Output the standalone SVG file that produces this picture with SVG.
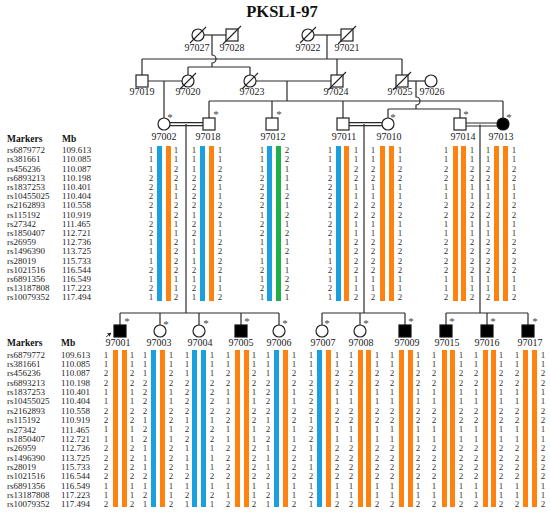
<svg xmlns="http://www.w3.org/2000/svg" xmlns:xlink="http://www.w3.org/1999/xlink" width="550" height="514" viewBox="0 0 550 514">
<style>
.ln{stroke:#2a2a2a;stroke-width:1.2;fill:none}
.sym{stroke:#222;stroke-width:1.2;fill:#fff}
.aff{stroke:#111;stroke-width:1.2;fill:#000}
.dec{stroke:#222;stroke-width:1.1}
.lb{font-family:"Liberation Serif",serif;font-size:10px;fill:#222;text-anchor:middle}
.ast{font-family:"Liberation Serif",serif;font-size:11px;fill:#444;text-anchor:middle}
.al{font-family:"Liberation Serif",serif;font-size:9px;fill:#333;text-anchor:middle}
.mk{font-family:"Liberation Serif",serif;font-size:9px;fill:#222}
.hd{font-family:"Liberation Serif",serif;font-size:9.5px;font-weight:bold;fill:#111}
.B{fill:#1aa0e0}.O{fill:#ff8210}.G{fill:#1fb04a}
</style>
<defs>
<text id="tB" class="al" x="0 0 0 0 0 0 0 0 0 0 0 0 0 0 0 0 0" y="0 9.2 18.4 27.6 36.8 46 55.2 64.4 73.6 82.8 92 101.2 110.4 119.6 128.8 138 147.2">11122221221112121</text>
<text id="tO" class="al" x="0 0 0 0 0 0 0 0 0 0 0 0 0 0 0 0 0" y="0 9.2 18.4 27.6 36.8 46 55.2 64.4 73.6 82.8 92 101.2 110.4 119.6 128.8 138 147.2">11221122112222112</text>
<text id="tG" class="al" x="0 0 0 0 0 0 0 0 0 0 0 0 0 0 0 0 0" y="0 9.2 18.4 27.6 36.8 46 55.2 64.4 73.6 82.8 92 101.2 110.4 119.6 128.8 138 147.2">22111212121211221</text>
<text id="bB" class="al" x="0 0 0 0 0 0 0 0 0 0 0 0 0 0 0 0 0" y="0 9.35 18.7 28.05 37.4 46.75 56.1 65.45 74.8 84.15 93.5 102.85 112.2 121.55 130.9 140.25 149.6">11122221221112121</text>
<text id="bO" class="al" x="0 0 0 0 0 0 0 0 0 0 0 0 0 0 0 0 0" y="0 9.35 18.7 28.05 37.4 46.75 56.1 65.45 74.8 84.15 93.5 102.85 112.2 121.55 130.9 140.25 149.6">11221122112222112</text>
<marker id="arr" markerWidth="4" markerHeight="4" refX="3.5" refY="2" orient="auto" markerUnits="userSpaceOnUse"><path d="M0,0 L4,2 L0,4 Z" fill="#222"/></marker>
</defs>
<rect width="550" height="514" fill="#fff"/>
<text x="282" y="17" font-family="Liberation Serif,serif" font-size="16.5" font-weight="bold" text-anchor="middle" fill="#111">PKSLI-97</text>

<g id="connectors">
<line class="ln" x1="204" y1="35" x2="226" y2="35"/>
<line class="ln" x1="314" y1="35" x2="341" y2="35"/>
<path class="ln" d="M212,35 V55 A4,4 0 0 1 212,63 V67"/>
<line class="ln" x1="327" y1="35" x2="327" y2="59"/>
<line class="ln" x1="142" y1="59" x2="402" y2="59"/>
<line class="ln" x1="142" y1="59" x2="142" y2="75"/>
<line class="ln" x1="337" y1="59" x2="337" y2="75"/>
<line class="ln" x1="402" y1="59" x2="402" y2="75"/>
<line class="ln" x1="188" y1="67" x2="250" y2="67"/>
<line class="ln" x1="188" y1="67" x2="188" y2="75"/>
<line class="ln" x1="250" y1="67" x2="250" y2="75"/>
<line class="ln" x1="148" y1="81" x2="182" y2="81"/>
<line class="ln" x1="256" y1="81" x2="331" y2="81"/>
<line class="ln" x1="408" y1="81" x2="425" y2="81"/>
<line class="ln" x1="164" y1="81" x2="164" y2="118"/>
<line class="ln" x1="287" y1="81" x2="287" y2="101"/>
<line class="ln" x1="209" y1="101" x2="503" y2="101"/>
<line class="ln" x1="209" y1="101" x2="209" y2="118"/>
<line class="ln" x1="272" y1="101" x2="272" y2="118"/>
<line class="ln" x1="343" y1="101" x2="343" y2="118"/>
<line class="ln" x1="503" y1="101" x2="503" y2="118"/>
<path class="ln" d="M416,81 V97 A4,4 0 0 1 416,105 V109"/>
<line class="ln" x1="388" y1="109" x2="460" y2="109"/>
<line class="ln" x1="388" y1="109" x2="388" y2="118"/>
<line class="ln" x1="460" y1="109" x2="460" y2="118"/>
<line class="ln" x1="170" y1="122.6" x2="203" y2="122.6"/>
<line class="ln" x1="170" y1="125.6" x2="203" y2="125.6"/>
<line class="ln" x1="349" y1="122.6" x2="382" y2="122.6"/>
<line class="ln" x1="349" y1="125.6" x2="382" y2="125.6"/>
<line x1="466" y1="123" x2="497" y2="123" stroke="#8a8a8a" stroke-width="1.8"/>
<line x1="466" y1="126" x2="497" y2="126" stroke="#8a8a8a" stroke-width="1.8"/>
<line class="ln" x1="186" y1="124" x2="186" y2="313"/>
<line class="ln" x1="364" y1="124" x2="364" y2="313"/>
<line class="ln" x1="480" y1="124.5" x2="480" y2="313"/>
<line class="ln" x1="120" y1="313" x2="279" y2="313"/>
<line class="ln" x1="120" y1="313" x2="120" y2="325"/>
<line class="ln" x1="160" y1="313" x2="160" y2="325"/>
<line class="ln" x1="199" y1="313" x2="199" y2="325"/>
<line class="ln" x1="241" y1="313" x2="241" y2="325"/>
<line class="ln" x1="279" y1="313" x2="279" y2="325"/>
<line class="ln" x1="322" y1="313" x2="405" y2="313"/>
<line class="ln" x1="322" y1="313" x2="322" y2="325"/>
<line class="ln" x1="360" y1="313" x2="360" y2="325"/>
<line class="ln" x1="405" y1="313" x2="405" y2="325"/>
<line class="ln" x1="446" y1="313" x2="528" y2="313"/>
<line class="ln" x1="446" y1="313" x2="446" y2="325"/>
<line class="ln" x1="487" y1="313" x2="487" y2="325"/>
<line class="ln" x1="528" y1="313" x2="528" y2="325"/>
<line x1="106" y1="337" x2="111" y2="333" stroke="#222" stroke-width="0.8" marker-end="url(#arr)"/>
</g>

<g id="gen1">
<g id="n97027"><circle class="sym" cx="198" cy="35" r="6"/><line class="dec" x1="190" y1="43" x2="206" y2="27"/><text class="lb" x="197" y="51">97027</text></g>
<g id="n97028"><rect class="sym" x="226" y="29" width="12" height="12"/><line class="dec" x1="223" y1="44" x2="241" y2="26"/><text class="lb" x="232" y="51">97028</text></g>
<g id="n97022"><circle class="sym" cx="308" cy="35" r="6"/><line class="dec" x1="300" y1="43" x2="316" y2="27"/><text class="lb" x="308" y="51">97022</text></g>
<g id="n97021"><rect class="sym" x="341" y="29" width="12" height="12"/><line class="dec" x1="338" y1="44" x2="356" y2="26"/><text class="lb" x="347" y="51">97021</text></g>
</g>

<g id="gen2">
<g id="n97019"><rect class="sym" x="136" y="75" width="12" height="12"/><text class="lb" x="142" y="95">97019</text></g>
<g id="n97020"><circle class="sym" cx="188" cy="81" r="6"/><line class="dec" x1="180" y1="89" x2="196" y2="73"/><text class="lb" x="188" y="95">97020</text></g>
<g id="n97023"><circle class="sym" cx="250" cy="81" r="6"/><line class="dec" x1="242" y1="89" x2="258" y2="73"/><text class="lb" x="252" y="95">97023</text></g>
<g id="n97024"><rect class="sym" x="331" y="75" width="12" height="12"/><line class="dec" x1="328" y1="90" x2="346" y2="72"/><text class="lb" x="336" y="95">97024</text></g>
<g id="n97025"><rect class="sym" x="396" y="75" width="12" height="12"/><line class="dec" x1="393" y1="90" x2="411" y2="72"/><text class="lb" x="400" y="95">97025</text></g>
<g id="n97026"><circle class="sym" cx="431" cy="81" r="6"/><text class="lb" x="432" y="95">97026</text></g>
</g>

<g id="markers-top">
<text class="hd" x="7" y="141.5">Markers</text><text class="hd" x="62" y="141.5">Mb</text>
<text class="mk"><tspan x="7" y="153.2">rs6879772</tspan><tspan x="7" dy="9.2">rs381661</tspan><tspan x="7" dy="9.2">rs456236</tspan><tspan x="7" dy="9.2">rs6893213</tspan><tspan x="7" dy="9.2">rs1837253</tspan><tspan x="7" dy="9.2">rs10455025</tspan><tspan x="7" dy="9.2">rs2162893</tspan><tspan x="7" dy="9.2">rs115192</tspan><tspan x="7" dy="9.2">rs27342</tspan><tspan x="7" dy="9.2">rs1850407</tspan><tspan x="7" dy="9.2">rs26959</tspan><tspan x="7" dy="9.2">rs1496390</tspan><tspan x="7" dy="9.2">rs28019</tspan><tspan x="7" dy="9.2">rs1021516</tspan><tspan x="7" dy="9.2">rs6891356</tspan><tspan x="7" dy="9.2">rs13187808</tspan><tspan x="7" dy="9.2">rs10079352</tspan></text>
<text class="mk"><tspan x="62" y="153.2">109.613</tspan><tspan x="62" dy="9.2">110.085</tspan><tspan x="62" dy="9.2">110.087</tspan><tspan x="62" dy="9.2">110.198</tspan><tspan x="62" dy="9.2">110.401</tspan><tspan x="62" dy="9.2">110.404</tspan><tspan x="62" dy="9.2">110.558</tspan><tspan x="62" dy="9.2">110.919</tspan><tspan x="62" dy="9.2">111.465</tspan><tspan x="62" dy="9.2">112.721</tspan><tspan x="62" dy="9.2">112.736</tspan><tspan x="62" dy="9.2">113.725</tspan><tspan x="62" dy="9.2">115.733</tspan><tspan x="62" dy="9.2">116.544</tspan><tspan x="62" dy="9.2">116.549</tspan><tspan x="62" dy="9.2">117.223</tspan><tspan x="62" dy="9.2">117.494</tspan></text>
</g>

<g id="gen3">
<g id="n97002"><circle class="sym" cx="164" cy="124" r="6"/><text class="ast" x="170" y="121">*</text><text class="lb" x="164" y="139.5">97002</text>
<use href="#tB" x="151" y="153.2"/><rect class="B" x="157" y="146" width="5" height="155"/><rect class="O" x="166" y="146" width="5" height="155"/><use href="#tO" x="176" y="153.2"/></g>
<g id="n97018"><rect class="sym" x="203" y="118" width="12" height="12"/><text class="ast" x="216" y="118">*</text><text class="lb" x="208" y="139.5">97018</text>
<use href="#tB" x="194" y="153.2"/><rect class="B" x="200" y="146" width="5" height="155"/><rect class="O" x="209" y="146" width="5" height="155"/><use href="#tO" x="220" y="153.2"/></g>
<g id="n97012"><rect class="sym" x="266" y="118" width="12" height="12"/><text class="ast" x="279" y="118">*</text><text class="lb" x="273" y="139.5">97012</text>
<use href="#tB" x="262" y="153.2"/><rect class="B" x="267" y="146" width="5" height="155"/><rect class="G" x="276" y="146" width="5" height="155"/><use href="#tG" x="287" y="153.2"/></g>
<g id="n97011"><rect class="sym" x="337" y="118" width="12" height="12"/><text class="lb" x="344" y="139.5">97011</text>
<use href="#tB" x="330" y="153.2"/><rect class="B" x="336" y="146" width="5" height="155"/><rect class="O" x="344" y="146" width="5" height="155"/><use href="#tO" x="356" y="153.2"/></g>
<g id="n97010"><circle class="sym" cx="388" cy="124" r="6"/><text class="ast" x="393" y="121">*</text><text class="lb" x="389" y="139.5">97010</text>
<use href="#tO" x="373" y="153.2"/><rect class="O" x="380" y="146" width="5" height="155"/><rect class="O" x="389" y="146" width="5" height="155"/><use href="#tO" x="400" y="153.2"/></g>
<g id="n97014"><rect class="sym" x="454" y="118" width="12" height="12"/><text class="ast" x="466" y="118">*</text><text class="lb" x="463" y="139.5">97014</text>
<use href="#tO" x="446" y="153.2"/><rect class="O" x="453" y="146" width="5" height="155"/><rect class="O" x="461" y="146" width="5" height="155"/><use href="#tO" x="472" y="153.2"/></g>
<g id="n97013"><circle class="aff" cx="503" cy="124" r="6"/><text class="ast" x="509" y="121">*</text><text class="lb" x="501" y="139.5">97013</text>
<use href="#tO" x="488" y="153.2"/><rect class="O" x="494" y="146" width="5" height="155"/><rect class="O" x="503" y="146" width="5" height="155"/><use href="#tO" x="514" y="153.2"/></g>
</g>

<g id="markers-bottom">
<text class="hd" x="7" y="345.5">Markers</text><text class="hd" x="61" y="345.5">Mb</text>
<text class="mk"><tspan x="7" y="357.7">rs6879772</tspan><tspan x="7" dy="9.35">rs381661</tspan><tspan x="7" dy="9.35">rs456236</tspan><tspan x="7" dy="9.35">rs6893213</tspan><tspan x="7" dy="9.35">rs1837253</tspan><tspan x="7" dy="9.35">rs10455025</tspan><tspan x="7" dy="9.35">rs2162893</tspan><tspan x="7" dy="9.35">rs115192</tspan><tspan x="7" dy="9.35">rs27342</tspan><tspan x="7" dy="9.35">rs1850407</tspan><tspan x="7" dy="9.35">rs26959</tspan><tspan x="7" dy="9.35">rs1496390</tspan><tspan x="7" dy="9.35">rs28019</tspan><tspan x="7" dy="9.35">rs1021516</tspan><tspan x="7" dy="9.35">rs6891356</tspan><tspan x="7" dy="9.35">rs13187808</tspan><tspan x="7" dy="9.35">rs10079352</tspan></text>
<text class="mk"><tspan x="61" y="357.7">109.613</tspan><tspan x="61" dy="9.35">110.085</tspan><tspan x="61" dy="9.35">110.087</tspan><tspan x="61" dy="9.35">110.198</tspan><tspan x="61" dy="9.35">110.401</tspan><tspan x="61" dy="9.35">110.404</tspan><tspan x="61" dy="9.35">110.558</tspan><tspan x="61" dy="9.35">110.919</tspan><tspan x="61" dy="9.35">111.465</tspan><tspan x="61" dy="9.35">112.721</tspan><tspan x="61" dy="9.35">112.736</tspan><tspan x="61" dy="9.35">113.725</tspan><tspan x="61" dy="9.35">115.733</tspan><tspan x="61" dy="9.35">116.544</tspan><tspan x="61" dy="9.35">116.549</tspan><tspan x="61" dy="9.35">117.223</tspan><tspan x="61" dy="9.35">117.494</tspan></text>
</g>

<g id="gen4">
<g id="n97001"><rect class="aff" x="114" y="325" width="12" height="12"/><text class="ast" x="127" y="325">*</text><text class="lb" x="118" y="345.5">97001</text>
<use href="#bO" x="106" y="357.7"/><rect class="O" x="113" y="350" width="5" height="157"/><rect class="O" x="122" y="350" width="5" height="157"/><use href="#bO" x="132" y="357.7"/></g>
<g id="n97003"><circle class="sym" cx="160" cy="331" r="6"/><text class="ast" x="166" y="328">*</text><text class="lb" x="159" y="345.5">97003</text>
<use href="#bB" x="145" y="357.7"/><rect class="B" x="151" y="350" width="5" height="157"/><rect class="O" x="160" y="350" width="5" height="157"/><use href="#bO" x="171" y="357.7"/></g>
<g id="n97004"><circle class="sym" cx="199" cy="331" r="6"/><text class="ast" x="206" y="327">*</text><text class="lb" x="200" y="345.5">97004</text>
<use href="#bB" x="187" y="357.7"/><rect class="B" x="192" y="350" width="5" height="157"/><rect class="B" x="201" y="350" width="5" height="157"/><use href="#bB" x="212" y="357.7"/></g>
<g id="n97005"><rect class="aff" x="235" y="325" width="12" height="12"/><text class="ast" x="247" y="325">*</text><text class="lb" x="241" y="345.5">97005</text>
<use href="#bO" x="228" y="357.7"/><rect class="O" x="235" y="350" width="5" height="157"/><rect class="O" x="244" y="350" width="5" height="157"/><use href="#bO" x="254" y="357.7"/></g>
<g id="n97006"><circle class="sym" cx="279" cy="331" r="6"/><text class="ast" x="285" y="327">*</text><text class="lb" x="279" y="345.5">97006</text>
<use href="#bB" x="268" y="357.7"/><rect class="B" x="274" y="350" width="5" height="157"/><rect class="O" x="283" y="350" width="5" height="157"/><use href="#bO" x="294" y="357.7"/></g>
<g id="n97007"><circle class="sym" cx="322" cy="331" r="6"/><text class="ast" x="327" y="327">*</text><text class="lb" x="323" y="345.5">97007</text>
<use href="#bB" x="311" y="357.7"/><rect class="B" x="317" y="350" width="5" height="157"/><rect class="O" x="326" y="350" width="5" height="157"/><use href="#bO" x="337" y="357.7"/></g>
<g id="n97008"><circle class="sym" cx="360" cy="331" r="6"/><text class="ast" x="366" y="327">*</text><text class="lb" x="361" y="345.5">97008</text>
<use href="#bO" x="351" y="357.7"/><rect class="O" x="358" y="350" width="5" height="157"/><rect class="O" x="366" y="350" width="5" height="157"/><use href="#bO" x="377" y="357.7"/></g>
<g id="n97009"><rect class="aff" x="399" y="325" width="12" height="12"/><text class="ast" x="411" y="325">*</text><text class="lb" x="407" y="345.5">97009</text>
<use href="#bO" x="392" y="357.7"/><rect class="O" x="399" y="350" width="5" height="157"/><rect class="O" x="408" y="350" width="5" height="157"/><use href="#bO" x="418" y="357.7"/></g>
<g id="n97015"><rect class="aff" x="440" y="325" width="12" height="12"/><text class="ast" x="452" y="325">*</text><text class="lb" x="447" y="345.5">97015</text>
<use href="#bO" x="434" y="357.7"/><rect class="O" x="442" y="350" width="5" height="157"/><rect class="O" x="450" y="350" width="5" height="157"/><use href="#bO" x="461" y="357.7"/></g>
<g id="n97016"><rect class="aff" x="481" y="325" width="12" height="12"/><text class="ast" x="493" y="325">*</text><text class="lb" x="487" y="345.5">97016</text>
<use href="#bO" x="476" y="357.7"/><rect class="O" x="483" y="350" width="5" height="157"/><rect class="O" x="491" y="350" width="5" height="157"/><use href="#bO" x="501" y="357.7"/></g>
<g id="n97017"><rect class="aff" x="522" y="325" width="12" height="12"/><text class="ast" x="535" y="325">*</text><text class="lb" x="530" y="345.5">97017</text>
<use href="#bO" x="517" y="357.7"/><rect class="O" x="523" y="350" width="5" height="157"/><rect class="O" x="532" y="350" width="5" height="157"/><use href="#bO" x="543" y="357.7"/></g>
</g>
</svg>
